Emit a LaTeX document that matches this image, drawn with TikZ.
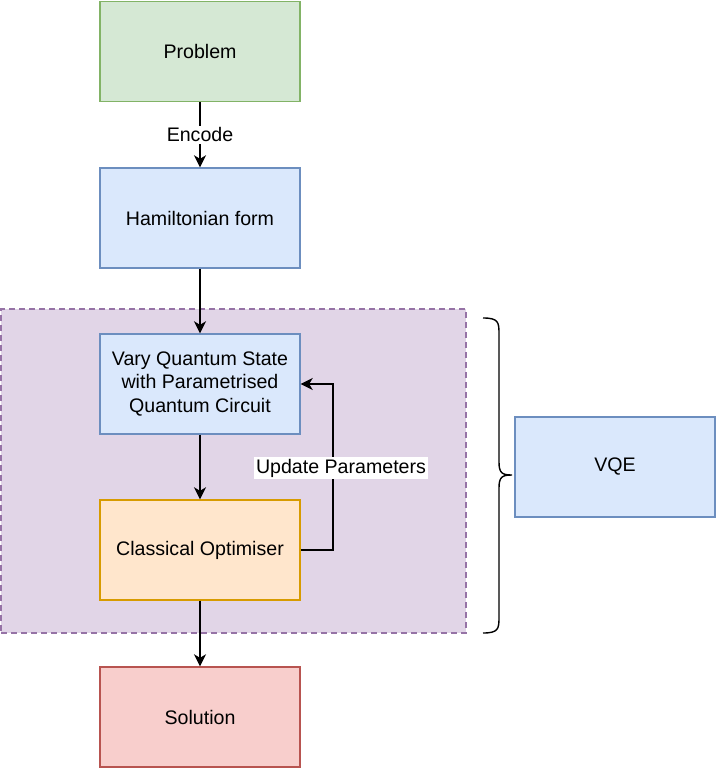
\documentclass[tikz,border=0pt]{standalone}
\usepackage{fontspec}
\setmainfont{Liberation Sans}
\usetikzlibrary{arrows.meta}
\definecolor{gfill}{HTML}{D5E8D4}\definecolor{gline}{HTML}{82B366}
\definecolor{bfill}{HTML}{DAE8FC}\definecolor{bline}{HTML}{6C8EBF}
\definecolor{ofill}{HTML}{FFE6CC}\definecolor{oline}{HTML}{D79B00}
\definecolor{rfill}{HTML}{F8CECC}\definecolor{rline}{HTML}{B85450}
\definecolor{pfill}{HTML}{E1D5E7}\definecolor{pline}{HTML}{9673A6}
\begin{document}
\begin{tikzpicture}[x=1pt,y=-1pt,
  font=\fontsize{19.6}{23.5}\selectfont,
  box/.style={draw, line width=1.4pt, minimum width=200pt, minimum height=100pt, align=center, inner sep=0pt},
  flow/.style={draw=black, line width=1.6pt, -{Stealth[length=12pt,width=12pt,inset=3.5pt]}},
  lbl/.style={fill=white, inner sep=2pt}]
\useasboundingbox (0,0) rectangle (716,768);
\node[draw=pline, fill=pfill, dash pattern=on 6pt off 4pt, line width=1.2pt, minimum width=465pt, minimum height=324pt, inner sep=0pt] (region) at (233.5,471) {};
\node[box, draw=gline, fill=gfill] (problem) at (200,51.5) {Problem};
\node[box, draw=bline, fill=bfill] (ham) at (200,218) {Hamiltonian form};
\node[box, draw=bline, fill=bfill] (vary) at (200,384) {Vary Quantum State\\with Parametrised\\Quantum Circuit};
\node[box, draw=oline, fill=ofill] (opt) at (200,550) {Classical Optimiser};
\node[box, draw=rline, fill=rfill] (sol) at (200,717) {Solution};
\node[box, draw=bline, fill=bfill] (vqe) at (615,467) {VQE};
\draw[flow] (problem) -- node[lbl] (enc) {Encode} (ham);
\draw[flow] (ham) -- (vary);
\draw[flow] (vary) -- (opt);
\draw[flow] (opt) -- (sol);
\draw[flow] (opt.east) -- ++(32,0) coordinate (c1) |- (vary.east);
\node[lbl] (upd) at (341,468) {Update Parameters};
\coordinate (btop) at (483,318);
\coordinate (bbot) at (483,633);
\coordinate (btip) at (512,475);
\draw[line width=1.4pt] (btop) .. controls (498,318) and (499,322) .. (499,333)
  -- (499,462) .. controls (499,473) and (502,475) .. (btip)
  (btip) .. controls (502,475) and (499,477) .. (499,488)
  -- (499,618) .. controls (499,629) and (498,633) .. (bbot);
\end{tikzpicture}
\end{document}
